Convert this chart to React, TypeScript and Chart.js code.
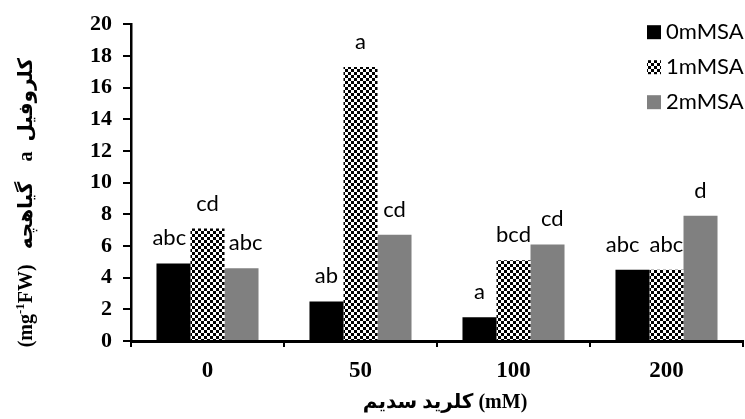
import React, { useEffect, useRef } from "react";
import { Chart, registerables } from "chart.js";

Chart.register(...registerables);

// ---- data ----
const categories = ["0", "50", "100", "200"];
const seriesNames = ["0mMSA", "1mMSA", "2mMSA"];
const values0 = [4.9, 2.5, 1.5, 4.5];
const values1 = [7.1, 17.3, 5.1, 4.5];
const values2 = [4.6, 6.7, 6.1, 7.9];
const letters0 = ["abc", "ab", "a", "abc"];
const letters1 = ["cd", "a", "bcd", "abc"];
const letters2 = ["abc", "cd", "cd", "d"];
const yMin = 0;
const yMax = 20;
const yStep = 2;
const xTitle = "کلرید سدیم (mM)";
const yTitleUnitA = "(mg";
const yTitleUnitSup = "-1";
const yTitleUnitB = "FW)";
const yTitleText = "   گیاهچه    a  کلروفیل";

const SERIF = "'Liberation Serif', 'Times New Roman', 'DejaVu Sans', serif";
const SANS = "Lato, 'Open Sans', 'DejaVu Sans', sans-serif";

function makeChecker(ctx: CanvasRenderingContext2D, cell: number): CanvasPattern | string {
  const c = document.createElement("canvas");
  c.width = cell * 2;
  c.height = cell * 2;
  const g = c.getContext("2d");
  if (!g) return "#666";
  g.fillStyle = "#ffffff";
  g.fillRect(0, 0, cell * 2, cell * 2);
  g.fillStyle = "#000000";
  g.fillRect(0, 0, cell, cell);
  g.fillRect(cell, cell, cell, cell);
  return ctx.createPattern(c, "repeat") || "#666";
}

export default function App() {
  const ref = useRef<HTMLCanvasElement | null>(null);

  useEffect(() => {
    const canvas = ref.current;
    if (!canvas) return;
    const ctx = canvas.getContext("2d");
    if (!ctx) return;
    const checker = makeChecker(ctx, 3);
    const colors: any[] = ["#000000", checker, "#808080"];
    const letterSets = [letters0, letters1, letters2];

    const labelsPlugin = {
      id: "barLetters",
      afterDatasetsDraw(chart: any) {
        const c = chart.ctx as CanvasRenderingContext2D;
        c.save();
        c.font = `22px ${SANS}`;
        c.fillStyle = "#000";
        c.textAlign = "center";
        c.textBaseline = "middle";
        const n = categories.length;
        for (let i = 0; i < n; i++) {
          const pos: { x: number; y: number; w: number; t: string }[] = [];
          for (let d = 0; d < 3; d++) {
            const el = chart.getDatasetMeta(d).data[i];
            const t = letterSets[d][i];
            pos.push({ x: el.x, y: el.y - 25, w: c.measureText(t).width, t });
          }
          const mid = pos[1];
          for (const d of [0, 2]) {
            const p = pos[d];
            if (Math.abs(p.y - mid.y) < 45) {
              const minDist = (p.w + mid.w) / 2 + 10;
              const dist = Math.abs(p.x - mid.x);
              if (dist < minDist) p.x += (d === 0 ? -1 : 1) * (minDist - dist);
            }
          }
          for (const p of pos) c.fillText(p.t, p.x, p.y);
        }
        c.restore();
      },
    };

    const decorPlugin = {
      id: "decor",
      afterDraw(chart: any) {
        const c = chart.ctx as CanvasRenderingContext2D;
        const area = chart.chartArea;
        c.save();
        // legend
        c.font = `22px ${SANS}`;
        c.textBaseline = "middle";
        c.textAlign = "left";
        for (let d = 0; d < seriesNames.length; d++) {
          const y = area.top + 8 + d * 35;
          const x = area.right - 96;
          c.fillStyle = colors[d];
          c.fillRect(x, y - 7, 14, 14);
          c.fillStyle = "#000";
          c.fillText(seriesNames[d], x + 19, y);
        }
        // x title
        c.font = `bold 20px ${SERIF}`;
        c.textAlign = "center";
        c.textBaseline = "middle";
        c.fillStyle = "#000";
        c.fillText(xTitle, (area.left + area.right) / 2 + 8, 403);
        // y title (rotated)
        c.translate(27, (area.top + area.bottom) / 2 + 20);
        c.rotate(-Math.PI / 2);
        const big = `bold 20px ${SERIF}`;
        const small = `bold 13px ${SERIF}`;
        c.textAlign = "left";
        c.font = big;
        const wA = c.measureText(yTitleUnitA).width;
        const wB = c.measureText(yTitleUnitB).width;
        const wT = c.measureText(yTitleText).width;
        c.font = small;
        const wS = c.measureText(yTitleUnitSup).width;
        let x = -(wA + wB + wT + wS) / 2;
        c.font = big;
        c.fillText(yTitleUnitA, x, 0);
        x += wA;
        c.font = small;
        c.fillText(yTitleUnitSup, x, -6);
        x += wS;
        c.font = big;
        c.fillText(yTitleUnitB, x, 0);
        x += wB;
        c.fillText(yTitleText, x, 0);
        c.restore();
      },
    };

    const chart = new Chart(ctx, {
      type: "bar",
      data: {
        labels: categories,
        datasets: [values0, values1, values2].map((v, d) => ({
          label: seriesNames[d],
          data: v,
          backgroundColor: colors[d],
          borderWidth: 0,
          categoryPercentage: 0.667,
          barPercentage: 1.0,
        })),
      },
      options: {
        animation: false,
        responsive: false,
        layout: { padding: { top: 20, right: 2, left: 0, bottom: 0 } },
        plugins: {
          legend: { display: false },
          tooltip: { enabled: false },
          title: { display: false },
        },
        scales: {
          x: {
            grid: {
              offset: true,
              drawOnChartArea: false,
              drawTicks: true,
              tickLength: 6,
              color: "#000",
              lineWidth: 2,
            },
            border: { display: true, color: "#000", width: 3 },
            ticks: {
              color: "#000",
              font: { family: SERIF, size: 23, weight: "bold" },
              padding: 10,
            },
            afterFit(scale: any) {
              scale.height = 78;
            },
          },
          y: {
            min: yMin,
            max: yMax,
            ticks: {
              stepSize: yStep,
              color: "#000",
              font: { family: SERIF, size: 22, weight: "bold" },
              padding: 11,
            },
            grid: {
              drawOnChartArea: false,
              drawTicks: true,
              tickLength: 8,
              color: "#000",
              lineWidth: 2,
            },
            border: { display: true, color: "#000", width: 2.5 },
            afterFit(scale: any) {
              scale.width = 131;
            },
          },
        },
      },
      plugins: [labelsPlugin, decorPlugin],
    } as any);

    return () => chart.destroy();
  }, []);

  return (
    <div style={{ position: "absolute", left: 0, top: 0, width: 745, height: 419, background: "#fff" }}>
      <canvas ref={ref} width={745} height={419} style={{ width: 745, height: 419 }} />
    </div>
  );
}
